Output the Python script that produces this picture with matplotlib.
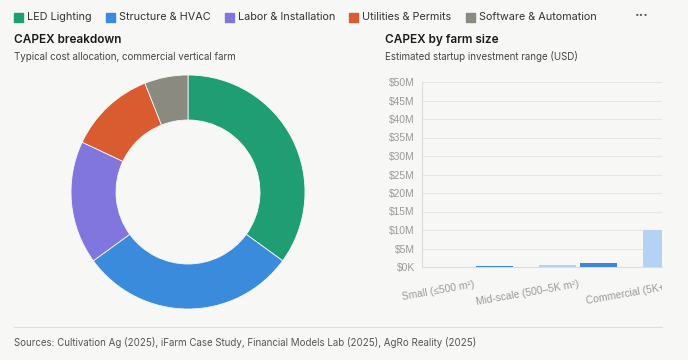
import matplotlib
matplotlib.use("Agg")
import matplotlib.pyplot as plt
import numpy as np
from matplotlib.patches import Rectangle, Circle
from matplotlib.transforms import Bbox, TransformedBbox, blended_transform_factory

# ---- data ----
cost_categories = ["LED Lighting", "Structure & HVAC", "Labor & Installation",
                   "Utilities & Permits", "Software & Automation"]
cost_shares = [35, 30, 17, 12, 6]
cost_colors = ["#1f9e74", "#3a8bdc", "#8176dd", "#d95b30", "#8a8a80"]

farm_sizes = ["Small (≤500 m²)", "Mid-scale (500–5K m²)", "Commercial (5K+ m²)"]
capex_low = [0.05, 0.5, 10.0]      # $M
capex_high = [0.3, 1.0, 50.0]      # $M
y_ticks = [0, 5, 10, 15, 20, 25, 30, 35, 40, 45, 50]
y_tick_labels = ["$0K"] + [f"${v}M" for v in y_ticks[1:]]

BG = "#f7f7f5"
W, H = 688, 360
fig = plt.figure(figsize=(W / 100, H / 100), dpi=100, facecolor=BG)

def fx(px):
    return px / W

def fy(py):
    return 1 - py / H

UI = ["Inter", "DejaVu Sans"]

# ---- legend ----
leg_x = [14, 106, 225, 349, 466]
for x, lab, col in zip(leg_x, cost_categories, cost_colors):
    fig.patches.append(Rectangle((fx(x), fy(22)), fx(9), 9 / H, color=col,
                                 transform=fig.transFigure, figure=fig))
    fig.text(fx(x + 13), fy(17.5), lab, family=UI, fontsize=7.8, color="#333333",
             va="center", ha="left")
fig.text(fx(642), fy(16), "···", family=UI, fontsize=10, color="#555555",
         va="center", ha="center", fontweight="bold")

# ---- titles ----
fig.text(fx(14), fy(40), "CAPEX breakdown", family=UI, fontsize=8.5,
         fontweight="semibold", color="#1a1a1a", va="center")
fig.text(fx(14), fy(57), "Typical cost allocation, commercial vertical farm",
         family=UI, fontsize=7.0, color="#444444", va="center")
fig.text(fx(385), fy(40), "CAPEX by farm size", family=UI, fontsize=8.5,
         fontweight="semibold", color="#1a1a1a", va="center")
fig.text(fx(385), fy(57), "Estimated startup investment range (USD)",
         family=UI, fontsize=7.0, color="#444444", va="center")

# ---- donut ----
cx, cy, r = 188, 192, 117
ax1 = fig.add_axes([fx(cx - r), fy(cy + r), fx(2 * r), 2 * r / H])
ax1.set_facecolor(BG)
ax1.pie(cost_shares, colors=cost_colors, startangle=90, counterclock=False,
        radius=1, wedgeprops=dict(width=1 - 72 / 117, edgecolor=BG, linewidth=0.6))
ax1.set_xlim(-1, 1)
ax1.set_ylim(-1, 1)
ax1.set_aspect("equal")
ax1.axis("off")

# ---- bar chart ----
x0, x1, ytop, ybot = 422, 662, 82, 267
ax2 = fig.add_axes([fx(x0), fy(ybot), fx(x1 - x0), (ybot - ytop) / H])
ax2.set_facecolor(BG)
px_per_cat = 104
xpos = np.arange(len(farm_sizes))
bw = 37 / px_per_cat
off = 20.5 / px_per_cat
ax2.bar(xpos - off, capex_low, width=bw, color="#b4d3f4", zorder=3)
ax2.bar(xpos + off, capex_high, width=bw, color="#3a86d9", zorder=3)
ax2.set_xticks([])
ax2.set_xlim(-0.5, -0.5 + (x1 - x0) / px_per_cat)
ax2.set_ylim(0, 50)
ax2.set_yticks(y_ticks)
ax2.set_yticklabels(y_tick_labels, family="Liberation Sans", fontsize=7.4,
                    color="#9a9a9a")
ax2.yaxis.grid(True, color="#e6e6e6", linewidth=0.8, zorder=0)
ax2.tick_params(axis="y", length=0, pad=5)
for s in ["top", "right"]:
    ax2.spines[s].set_visible(False)
ax2.spines["left"].set_color("#dddddd")
ax2.spines["bottom"].set_color("#dddddd")

clipbox = TransformedBbox(Bbox([[0, 0], [fx(x1), 1]]), fig.transFigure)
trans = blended_transform_factory(ax2.transData, ax2.transAxes)
for xp, lab in zip(xpos, farm_sizes):
    t = ax2.annotate(lab, xy=(xp, 0), xycoords=trans, xytext=(0, -9),
                     textcoords="offset points", ha="right", va="top",
                     rotation=10, rotation_mode="anchor",
                     family="Liberation Sans", fontsize=7.4, color="#9a9a9a",
                     annotation_clip=False)
    t.set_clip_on(True)
    t.set_clip_box(clipbox)

# ---- footer ----
fig.add_artist(plt.Line2D([fx(14), fx(662)], [fy(327), fy(327)],
                          color="#dddddd", linewidth=0.8))
fig.text(fx(14), fy(342),
         "Sources: Cultivation Ag (2025), iFarm Case Study, Financial Models Lab (2025), AgRo Reality (2025)",
         family=UI, fontsize=7.0, color="#555555", va="center")
fig.patches.append(Circle((fx(339), fy(369)), 11 / W, transform=fig.transFigure,
                          facecolor=BG, edgecolor="#dddddd", linewidth=0.8,
                          figure=fig))

fig.savefig("out.png", dpi=100, facecolor=BG)
